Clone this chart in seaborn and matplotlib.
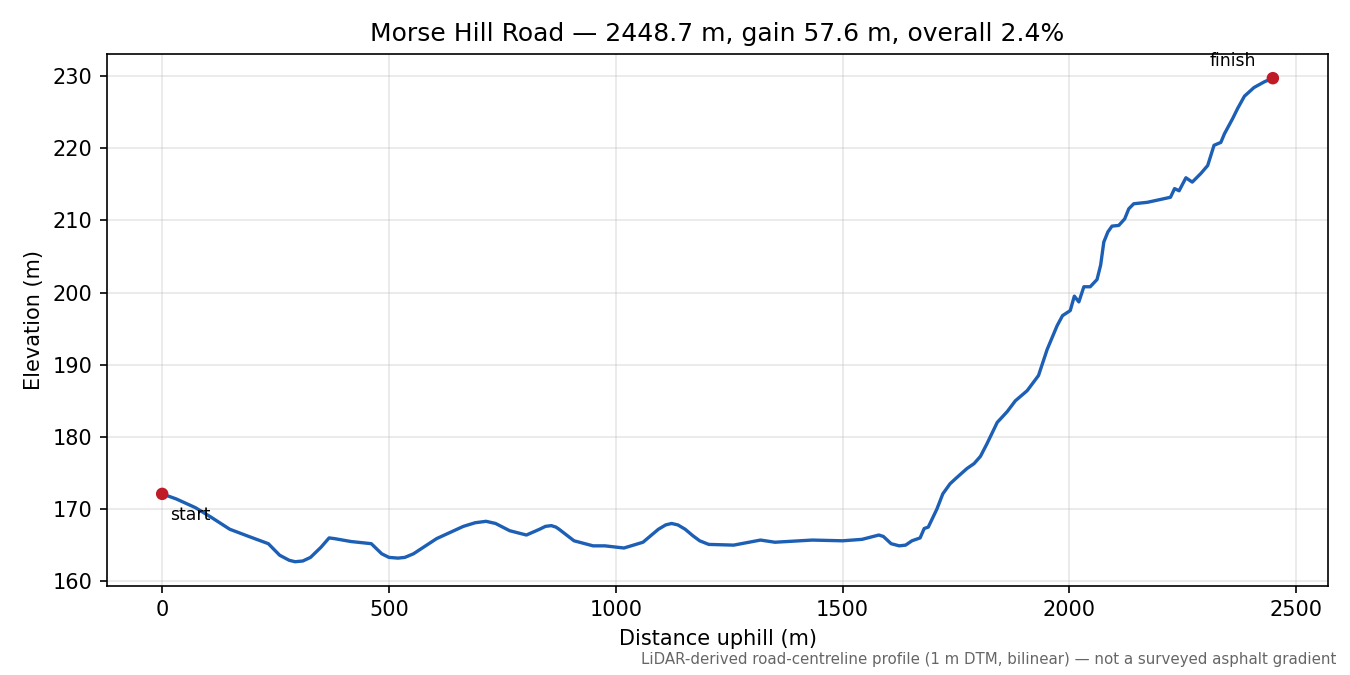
import matplotlib
matplotlib.use("Agg")
import matplotlib.pyplot as plt
import seaborn as sns
import pandas as pd

title_text = "Morse Hill Road — 2448.7 m, gain 57.6 m, overall 2.4%"
x_label = "Distance uphill (m)"
y_label = "Elevation (m)"
footnote = "LiDAR-derived road-centreline profile (1 m DTM, bilinear) — not a surveyed asphalt gradient"

distance_m = [0, 31, 73, 107, 149, 191, 234, 259, 280, 293, 310, 327, 350, 368, 380, 416, 461,
              484, 500, 520, 535, 554, 605, 664, 690, 714, 735, 766, 803, 832, 845, 858, 868,
              875, 908, 950, 976, 1018, 1060, 1094, 1110, 1123, 1137, 1153, 1170, 1185, 1205,
              1260, 1319, 1351, 1433, 1500, 1543, 1580, 1590, 1607, 1625, 1639, 1653, 1671,
              1680, 1689, 1708, 1721, 1737, 1749, 1774, 1790, 1804, 1818, 1841, 1863, 1881,
              1907, 1932, 1951, 1973, 1985, 2002, 2011, 2021, 2032, 2046, 2061, 2069, 2076,
              2085, 2094, 2109, 2122, 2131, 2142, 2172, 2194, 2223, 2232, 2242, 2257, 2271,
              2290, 2305, 2319, 2334, 2342, 2360, 2371, 2386, 2407, 2430, 2448.7]
elevation_m = [172.1, 171.4, 170.2, 168.9, 167.2, 166.2, 165.2, 163.6, 162.9, 162.7, 162.8,
               163.3, 164.7, 166.0, 165.9, 165.5, 165.2, 163.8, 163.3, 163.2, 163.3, 163.8,
               165.9, 167.6, 168.1, 168.3, 168.0, 167.0, 166.4, 167.2, 167.6, 167.7, 167.5,
               167.2, 165.6, 164.9, 164.9, 164.6, 165.4, 167.2, 167.8, 168.0, 167.8, 167.2,
               166.3, 165.6, 165.1, 165.0, 165.7, 165.4, 165.7, 165.6, 165.8, 166.4, 166.2,
               165.2, 164.9, 165.0, 165.6, 166.0, 167.3, 167.5, 170.0, 172.1, 173.5, 174.2,
               175.6, 176.3, 177.3, 179.0, 182.0, 183.5, 185.0, 186.4, 188.5, 192.1, 195.4,
               196.8, 197.5, 199.5, 198.7, 200.8, 200.8, 201.8, 203.8, 207.0, 208.4, 209.2,
               209.3, 210.2, 211.6, 212.3, 212.5, 212.8, 213.2, 214.4, 214.1, 215.9, 215.3,
               216.5, 217.6, 220.4, 220.8, 222.0, 224.1, 225.5, 227.2, 228.4, 229.2, 229.7]

endpoint_labels = ["start", "finish"]

df = pd.DataFrame({"distance": distance_m, "elevation": elevation_m})
ends = df.iloc[[0, -1]].reset_index(drop=True)

fig, ax = plt.subplots(figsize=(9, 4.5), dpi=150)
fig.subplots_adjust(left=0.079, right=0.984, top=0.92, bottom=0.132)

sns.lineplot(data=df, x="distance", y="elevation", ax=ax, color="#1c5fb4",
             linewidth=1.6, estimator=None, sort=True)
sns.scatterplot(data=ends, x="distance", y="elevation", ax=ax, color="#c01c28",
                s=36, edgecolor="none", zorder=5)

ax.annotate(endpoint_labels[0], (ends.distance[0], ends.elevation[0]),
            xytext=(4, -6), textcoords="offset points", ha="left", va="top", fontsize=8.3)
ax.annotate(endpoint_labels[1], (ends.distance[1], ends.elevation[1]),
            xytext=(-8, 4), textcoords="offset points", ha="right", va="bottom", fontsize=8.3)

ax.grid(True, alpha=0.3)
ax.set_title(title_text, fontsize=12)
ax.set_xlabel(x_label, fontsize=10)
ax.set_ylabel(y_label, fontsize=10)
ax.tick_params(labelsize=10)

fig.text(0.99, 0.012, footnote, ha="right", va="bottom", fontsize=7.2, color="0.4")

fig.savefig("out.png", dpi=150)
